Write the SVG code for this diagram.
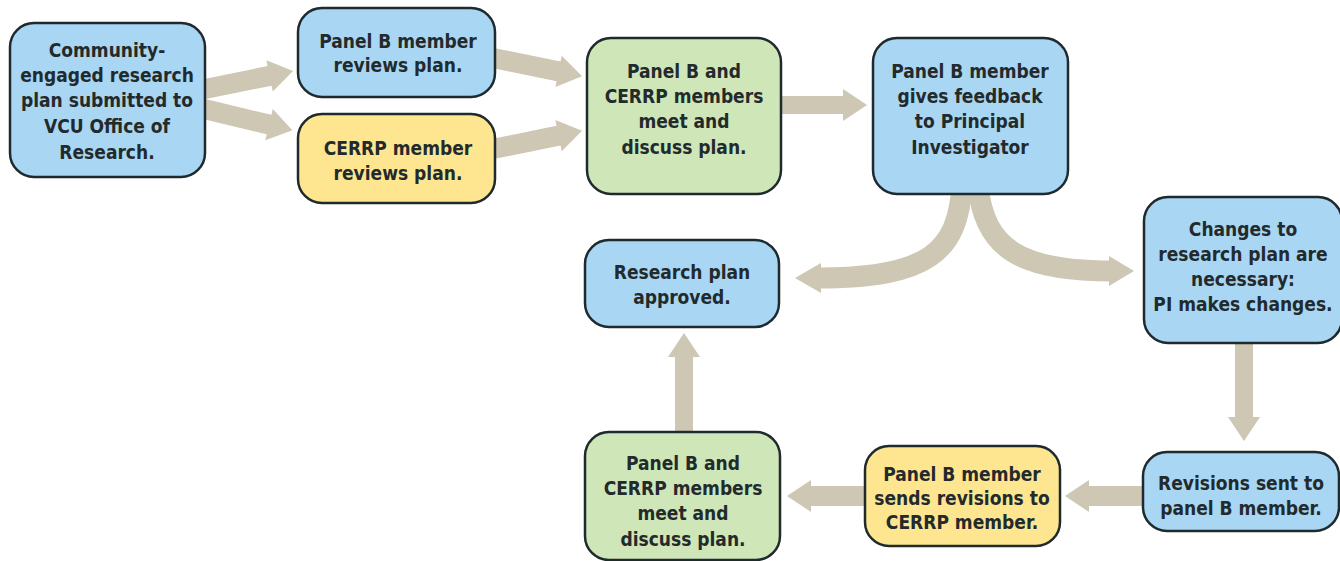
<svg xmlns="http://www.w3.org/2000/svg" width="1340" height="561" viewBox="0 0 1340 561">
<style>
.node rect{stroke:#1f2a2e;stroke-width:2.5}
.blue rect{fill:#a9d6f2}
.yellow rect{fill:#fde68f}
.green rect{fill:#cfe6b8}
text{font-family:"Liberation Sans Narrow","DejaVu Sans Condensed","Liberation Sans",sans-serif;font-weight:bold;font-size:19px;fill:#232a2c;text-anchor:middle}
.arrow{fill:#cdc7b4}
.curve{fill:none;stroke:#cdc7b4;stroke-width:21}
</style>
<rect width="1340" height="561" fill="#ffffff"/>
<g id="connectors">
  <path class="arrow" transform="translate(200,90) rotate(-11.5)" d="M0,-10 L71,-10 L71,-16 L95,0 L71,16 L71,10 L0,10 Z"/>
  <path class="arrow" transform="translate(200,108) rotate(13.5)" d="M0,-10 L71,-10 L71,-16 L95,0 L71,16 L71,10 L0,10 Z"/>
  <path class="arrow" transform="translate(488,57) rotate(11.5)" d="M0,-10 L72,-10 L72,-16 L96,0 L72,16 L72,10 L0,10 Z"/>
  <path class="arrow" transform="translate(488,150) rotate(-11.5)" d="M0,-10 L72,-10 L72,-16 L96,0 L72,16 L72,10 L0,10 Z"/>
  <path class="arrow" transform="translate(778,105)" d="M0,-9 L65,-9 L65,-16 L89,0 L65,16 L65,9 L0,9 Z"/>
  <path class="curve" d="M962,185 C958,252 928,278 818,278"/>
  <path class="curve" d="M978,185 C984,250 1022,271 1112,271"/>
  <path class="arrow" d="M795,278 L821,263 L821,293 Z"/>
  <path class="arrow" d="M1134,271 L1109,256 L1109,286 Z"/>
  <path class="arrow" transform="translate(1244,340) rotate(90)" d="M0,-9 L77,-9 L77,-16 L101,0 L77,16 L77,9 L0,9 Z"/>
  <path class="arrow" transform="translate(1148,496) rotate(180)" d="M0,-10 L59,-10 L59,-16 L83,0 L59,16 L59,10 L0,10 Z"/>
  <path class="arrow" transform="translate(870,496) rotate(180)" d="M0,-10 L59,-10 L59,-16 L83,0 L59,16 L59,10 L0,10 Z"/>
  <path class="arrow" transform="translate(684,436) rotate(-90)" d="M0,-9 L79,-9 L79,-16 L103,0 L79,16 L79,9 L0,9 Z"/>
</g>
<g id="n1" class="node blue">
  <rect x="10" y="23" width="195" height="154" rx="24"/>
  <text x="107" y="57">Community-</text>
  <text x="107" y="82">engaged research</text>
  <text x="107" y="107">plan submitted to</text>
  <text x="107" y="133">VCU Office of</text>
  <text x="107" y="159">Research.</text>
</g>
<g id="n2" class="node blue">
  <rect x="298" y="8" width="197" height="89" rx="24"/>
  <text x="398" y="48">Panel B member</text>
  <text x="398" y="72">reviews plan.</text>
</g>
<g id="n3" class="node yellow">
  <rect x="298" y="114" width="197" height="89" rx="24"/>
  <text x="398" y="155">CERRP member</text>
  <text x="398" y="180">reviews plan.</text>
</g>
<g id="n4" class="node green">
  <rect x="587" y="38" width="194" height="156" rx="24"/>
  <text x="684" y="78">Panel B and</text>
  <text x="684" y="103">CERRP members</text>
  <text x="684" y="128">meet and</text>
  <text x="684" y="154">discuss plan.</text>
</g>
<g id="n5" class="node blue">
  <rect x="873" y="38" width="195" height="156" rx="24"/>
  <text x="970" y="78">Panel B member</text>
  <text x="970" y="103">gives feedback</text>
  <text x="970" y="128">to Principal</text>
  <text x="970" y="154">Investigator</text>
</g>
<g id="n6" class="node blue">
  <rect x="585" y="240" width="194" height="87" rx="24"/>
  <text x="682" y="279">Research plan</text>
  <text x="682" y="304">approved.</text>
</g>
<g id="n7" class="node blue">
  <rect x="1144" y="197" width="198" height="146" rx="24"/>
  <text x="1243" y="236">Changes to</text>
  <text x="1243" y="261">research plan are</text>
  <text x="1243" y="286">necessary:</text>
  <text x="1243" y="311">PI makes changes.</text>
</g>
<g id="n8" class="node blue">
  <rect x="1143" y="452" width="196" height="79" rx="24"/>
  <text x="1241" y="490">Revisions sent to</text>
  <text x="1241" y="515">panel B member.</text>
</g>
<g id="n9" class="node green">
  <rect x="585" y="432" width="195" height="128" rx="24"/>
  <text x="683" y="470">Panel B and</text>
  <text x="683" y="495">CERRP members</text>
  <text x="683" y="520">meet and</text>
  <text x="683" y="546">discuss plan.</text>
</g>
<g id="n10" class="node yellow">
  <rect x="865" y="446" width="195" height="100" rx="24"/>
  <text x="962" y="481">Panel B member</text>
  <text x="962" y="505">sends revisions to</text>
  <text x="962" y="529">CERRP member.</text>
</g>
</svg>
